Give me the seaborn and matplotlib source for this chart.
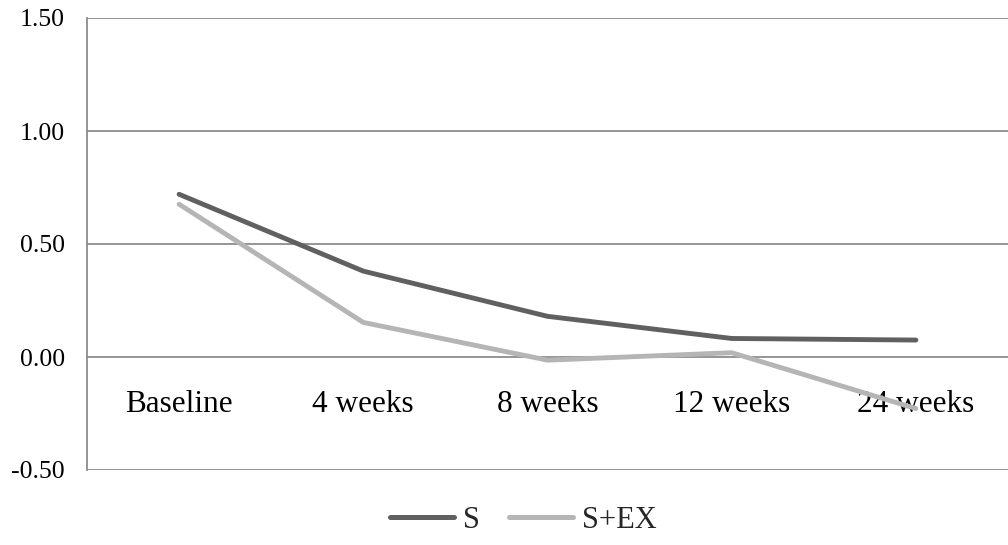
import matplotlib
matplotlib.use("Agg")
import matplotlib.pyplot as plt
import seaborn as sns
import pandas as pd
import numpy as np
from matplotlib.lines import Line2D

categories = ["Baseline", "4 weeks", "8 weeks", "12 weeks", "24 weeks"]
s_values = [0.72, 0.38, 0.18, 0.082, 0.075]
sex_values = [0.676, 0.153, -0.014, 0.019, -0.228]
series_names = ["S", "S+EX"]
y_ticks = [-0.5, 0.0, 0.5, 1.0, 1.5]

sns.set_theme(style="white")
plt.rcParams['font.family'] = ['Liberation Serif', 'DejaVu Serif']

df = pd.DataFrame({
    "cat": categories * 2,
    "x": list(range(len(categories))) * 2,
    "value": s_values + sex_values,
    "series": [series_names[0]] * len(categories) + [series_names[1]] * len(categories),
})

fig = plt.figure(figsize=(10.08, 5.45), dpi=100)
ax = fig.add_axes([87 / 1008, 1 - 470 / 545, 1 - 87 / 1008, (470 - 18) / 545])

palette = {"S": "#606060", "S+EX": "#b5b5b5"}
sns.lineplot(data=df, x="x", y="value", hue="series", palette=palette,
             linewidth=3.5, ax=ax, legend=False, sort=False)

ax.set_xlim(-0.5, len(categories) - 0.5)
ax.set_ylim(-0.5, 1.5)
ax.set_yticks(y_ticks)
ax.set_yticklabels([f"{v:.2f}" for v in y_ticks], fontsize=18.5)
grid_c = "#8c8c8c"
for v in y_ticks:
    if v != 0.0:
        ax.axhline(v, color=grid_c, linewidth=1.3, zorder=0)

for s in ["top", "right"]:
    ax.spines[s].set_visible(False)
ax.spines["bottom"].set_position(("data", 0))
ax.spines["bottom"].set_color(grid_c)
ax.spines["bottom"].set_linewidth(1.3)
ax.spines["bottom"].set_zorder(0.5)
ax.spines["left"].set_color(grid_c)
ax.spines["left"].set_linewidth(1.3)

ax.set_xticks(range(len(categories)))
ax.set_xticklabels(categories, fontsize=22.5)
ax.set_xticks(np.arange(-0.5, len(categories), 1.0), minor=True)
ax.tick_params(axis="x", which="major", length=0, pad=24, colors="black")
ax.tick_params(axis="x", which="minor", length=7, width=1.3, color=grid_c, direction="out")
ax.tick_params(axis="y", which="major", length=7, width=1.3, color=grid_c, direction="out", pad=9, colors="black")
ax.tick_params(axis="y", which="major", color=grid_c)
ax.set_xlabel("")
ax.set_ylabel("")

handles = [Line2D([0], [0], color=palette[n], linewidth=3.6) for n in series_names]
fig.legend(handles, series_names, loc="center", bbox_to_anchor=(0.519, 1 - 520 / 545),
           ncol=2, frameon=False, fontsize=22, handlelength=2.1, handletextpad=0.28,
           columnspacing=0.95)

fig.savefig("out.png", dpi=100)
